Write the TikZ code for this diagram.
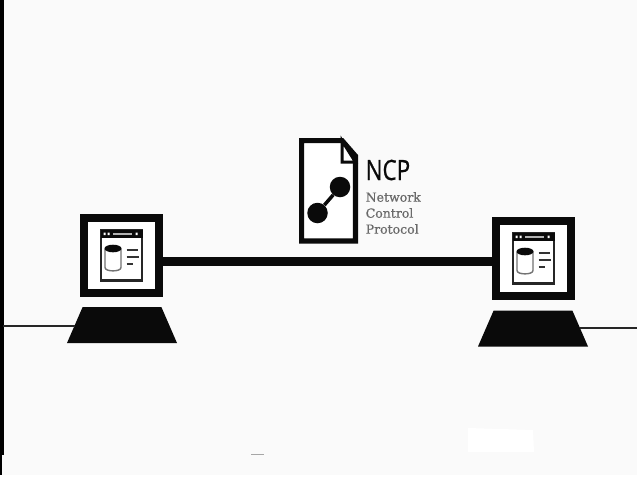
\documentclass[tikz,border=0pt]{standalone}
\usepackage{fontspec}
\setmainfont{Open Sans}
\newfontfamily\slabfont[FakeBold=0.6]{DejaVu Serif}
\newfontfamily\headfont[FakeBold=0.8]{Open Sans}
\usetikzlibrary{shapes.geometric}
\definecolor{paper}{HTML}{FAFAFA}
\definecolor{ink}{HTML}{0A0A0A}
\definecolor{softink}{HTML}{6A6A6A}
\tikzset{
  x=1pt,y=-1pt,
  monitorbox/.style={draw=ink,line width=8pt,fill=white,minimum width=75pt,minimum height=75pt,inner sep=0pt},
  basebox/.style={trapezium,trapezium stretches=true,fill=ink,minimum width=110pt,minimum height=36pt,trapezium left angle=79,trapezium right angle=79,inner sep=0pt},
  link/.style={ink,line width=9pt},
  tail/.style={black!85,line width=2.6pt},
  sublabel/.style={font=\slabfont\fontsize{12.5}{13}\selectfont,text=softink,anchor=west,inner sep=0pt},
  blob/.style={circle,fill=ink,minimum size=20.5pt,inner sep=0pt},
  screenicon/.pic={
    \draw[black!85,line width=2.4pt] (-20.5,-25) rectangle (20.5,25);
    \fill[ink] (-21,-25.5) rectangle (21,-17.5);
    \fill[white!70!black] (-9,-23) rectangle (10,-20.5);
    \fill[white] (-18,-23) rectangle (-16,-20.5) (-14,-23) rectangle (-12,-20.5) (14,-23) rectangle (16,-20.5);
    \draw[black!55,line width=1.4pt] (-16.5,-7) -- (-16.5,12) .. controls (-16.5,16.5) and (-0.5,16.5) .. (-0.5,12) -- (-0.5,-7);
    \fill[ink] (-8.5,-7) ellipse [x radius=8.5,y radius=3.8];
    \draw[black!80,line width=2.4pt] (5,-5.5) -- (16,-5.5) (5,1.5) -- (17,1.5) (5,8.5) -- (11,8.5);
  }
}
\begin{document}
\begin{tikzpicture}
\useasboundingbox (0,0) rectangle (637,480);
\fill[white] (0,0) rectangle (637,480);
\fill[paper] (0,0) rectangle (637,475);
\fill[white] (468,428) -- (533,430) -- (534,452) -- (468,452) -- cycle;
\fill[black!35] (251,454) rectangle (264,455);
\fill[black] (0,0) rectangle (3.5,455);
\fill[black] (0,455) rectangle (2,475);

% computers
\node[monitorbox] (monL) at (121.5,255.5) {};
\node[monitorbox] (monR) at (533.5,258.5) {};
\node[basebox] (baseL) at (122,325) {\phantom{x}};
\node[basebox] (baseR) at (533,328.5) {\phantom{x}};
\pic at (monL.center) {screenicon};
\pic at (monR.center) {screenicon};

% connectors
\coordinate (tailL) at (3,326);
\coordinate (tailR) at (637,328);
\coordinate (level) at (320,261);
\draw[link] (monL.east |- level) -- (monR.west |- level);
\draw[tail] (tailL) -- (baseL.west |- tailL);
\draw[tail] (baseR.east |- tailR) -- (tailR);

% document icon
\draw[ink,line width=5.2pt,fill=white,line join=miter]
  (301.6,140.6) -- (342,140.6) -- (355.4,156) -- (355.4,241) -- (301.6,241) -- cycle;
\draw[ink,line width=3pt,fill=white,line join=miter] (342,140.6) -- (342,162) -- (355.4,162) -- cycle;
\node[blob] (hubA) at (340,187) {};
\node[blob] (hubB) at (317.5,213) {};
\draw[ink,line width=3.5pt] (hubA) -- (hubB);

% labels
\node[anchor=west,inner sep=0pt,text=ink,xscale=0.8,font=\headfont\fontsize{28}{28}\selectfont] (ncp) at (365.5,170) {NCP};
\node[sublabel] (netw) at (365.5,197) {Network};
\node[sublabel] (ctrl) at (365.5,213) {Control};
\node[sublabel] (prot) at (365.5,229) {Protocol};
\end{tikzpicture}
\end{document}
